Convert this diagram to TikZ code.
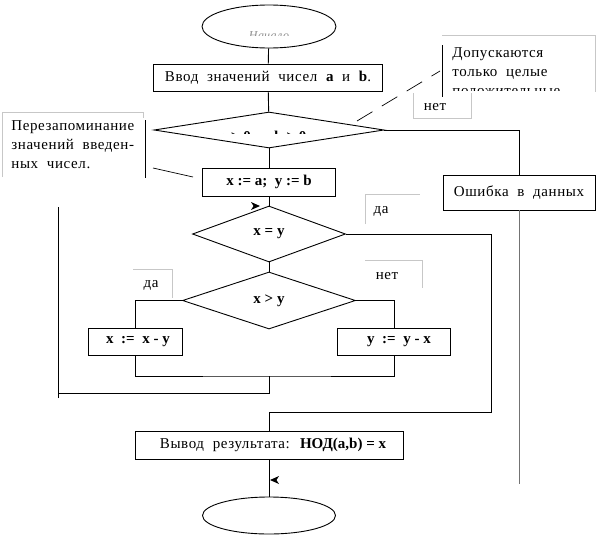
\documentclass[tikz,border=0pt]{standalone}
\usepackage{fontspec}
\setmainfont{Liberation Serif}
\newfontfamily\spc{Liberation Serif}[LetterSpace=4,WordSpace=2]
\usetikzlibrary{shapes.geometric}
\begin{document}
\begin{tikzpicture}[x=1pt,y=-1pt,line width=0.9pt,
  proc/.style={draw,rectangle,inner sep=0pt,font=\spc\fontsize{15}{17}\selectfont},
  bproc/.style={proc,font=\fontsize{15}{17}\selectfont\bfseries},
  dec/.style={draw,diamond,inner sep=0pt,font=\fontsize{15}{17}\selectfont\bfseries},
  term/.style={draw,ellipse,inner sep=0pt},
  lbl/.style={inner sep=0pt,font=\spc\fontsize{15}{19}\selectfont},
  faint/.style={draw=black!22,line width=0.7pt},
  link/.style={draw,line width=0.9pt}]
\useasboundingbox (0,0) rectangle (597,536);

% --- terminals and blocks
\node[term,minimum width=134pt,minimum height=43pt] (start) at (269,26.5) {};
\begin{scope}
  \clip (200,0) rectangle (340,35);
  \node[inner sep=0pt,anchor=base,text=black!45,font=\spc\itshape\fontsize{12}{13}\selectfont] (startlbl) at (269,39) {Начало};
\end{scope}

\node[proc,minimum width=229pt,minimum height=27pt] (inp) at (268,77.5) {Ввод значений чисел {\rmfamily\bfseries a} и {\rmfamily\bfseries b}.};

\node[dec,minimum width=230pt,minimum height=36pt] (d1) at (269,130) {};
\begin{scope}
  \clip (150,100) rectangle (390,133.5);
  \node[inner sep=0pt,anchor=base,font=\fontsize{15}{17}\selectfont\bfseries] (d1lbl) at (263,141) {a > 0 \ и \ b > 0};
\end{scope}

\node[bproc,minimum width=133pt,minimum height=28pt] (init) at (269,182) {x := a;\ \ y := b};
\node[dec,minimum width=153pt,minimum height=56pt] (d2) at (269,234) {x = y};
\node[dec,minimum width=173pt,minimum height=57pt] (d3) at (269,300.5) {x > y};
\node[bproc,minimum width=94pt,minimum height=27pt] (sx) at (135,341.5) {\hspace*{6pt}x \ := \ x - y};
\node[bproc,minimum width=113pt,minimum height=27pt] (sy) at (394,341.5) {\hspace*{10pt}y \ := \ y - x};
\node[proc,minimum width=268pt,minimum height=28pt] (out) at (269,445) {\hspace*{8pt}Вывод результата: {\rmfamily\bfseries НОД(a,b) = x}};
\node[proc,minimum width=152pt,minimum height=35pt] (err) at (519,192.5) {Ошибка в данных};
\node[term,minimum width=133pt,minimum height=37pt] (stop) at (269,515.5) {};

% --- connectors
\draw[link] (start) -- (inp);
\draw[link] (inp) -- (d1);
\coordinate (c1) at (519,130);
\draw[link] (d1.east) -- (c1) -- (err.north);
\coordinate (eb) at (519,484);
\draw[link,draw=black!55] (err.south) -- (eb);
\draw[link] (d1) -- (init);
\draw[link] (init) -- (d2);
\coordinate (c2) at (491,234);
\coordinate (c3) at (491,412);
\draw[link] (d2.east) -- (c2) -- (c3) -- (c3 -| out.north) -- (out.north);
\draw[link] (d2) -- (d3);
\draw[link] (d3.west) -| (sx.north);
\draw[link] (d3.east) -| (sy.north);
\coordinate (m) at (269,376);
\draw[link] (sx.south) |- (m) -| (sy.south);
\coordinate (lp) at (58,393);
\coordinate (lb) at (58,398);
\coordinate (lt) at (58,207);
\draw[link] (m) |- (lp);
\draw[link] (lb) -- (lt);
\coordinate (ah1) at (260,206);
\fill[shift={(ah1)}] (0,0) -- (-9,-4) -- (-6.5,0) -- (-9,4) -- cycle;
\draw[link] (out) -- (stop);
\coordinate (ah2) at (270,480);
\fill[shift={(ah2)}] (0,0) -- (9,-4) -- (6.5,0) -- (9,4) -- cycle;

% --- branch labels
\node[lbl] (no1) at (435,107) {нет};
\draw[faint] (413,93) -- (413,118) -- (471,118) -- (471,93);
\node[lbl] (yes1) at (381,211) {да};
\draw[faint] (365,224) -- (365,194) -- (420,194);
\node[lbl] (yes2) at (151,285) {да};
\draw[faint] (133,269) -- (172,269) -- (172,298);
\node[lbl] (no2) at (387,276) {нет};
\draw[faint] (365,260) -- (422,260) -- (422,288);

% --- comments
\draw[faint] (2,177) -- (2,112) -- (143,112) -- (143,118);
\node[lbl,align=left,anchor=north west] (note1) at (11,120) {Перезапоминание\\значений введен-\\ных чисел.};
\coordinate (b1t) at (145,120);
\coordinate (b1b) at (145,178);
\draw[link] (b1t) -- (b1b);
\coordinate (n1a) at (153,168);
\coordinate (n1b) at (193,177);
\draw[link,line width=0.7pt] (n1a) -- (n1b);

\draw[faint] (442,35) -- (595,35) -- (595,92);
\begin{scope}
  \clip (443,36) rectangle (594,90);
  \node[lbl,align=left,anchor=north west] (note2) at (452,47) {Допускаются\\только целые\\положительные};
\end{scope}
\coordinate (b2t) at (442,45);
\coordinate (b2b) at (442,97);
\draw[link] (b2t) -- (b2b);
\coordinate (cs) at (357,121);
\coordinate (ce) at (440,71);
\draw[link,line width=0.7pt,dash pattern=on 18pt off 11pt] (cs) -- (ce);
\end{tikzpicture}
\end{document}
